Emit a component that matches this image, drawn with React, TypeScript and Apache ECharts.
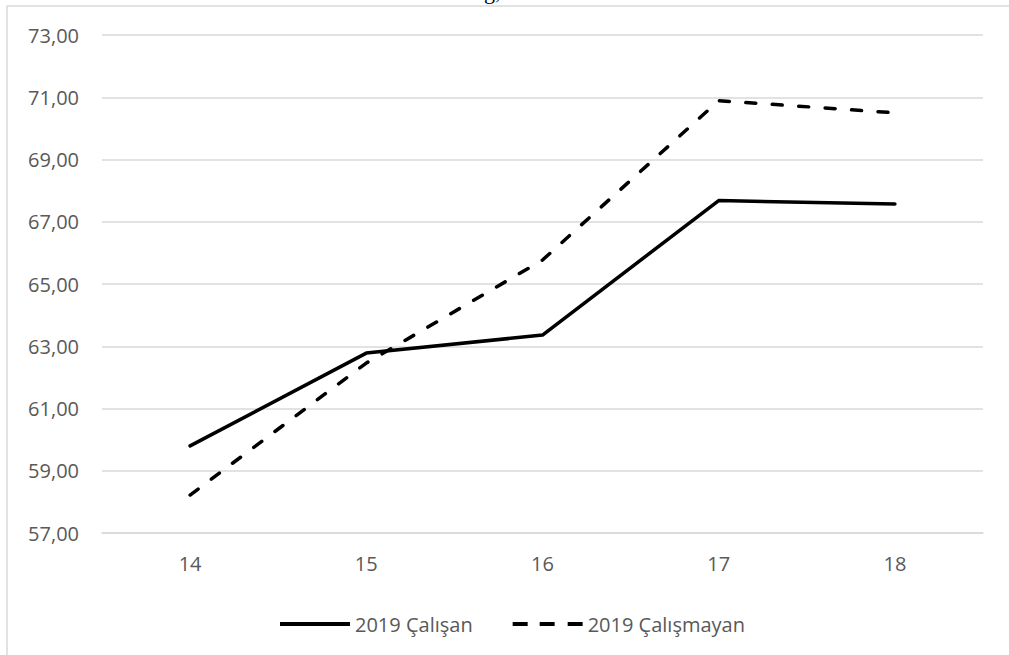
import React, { useEffect, useRef } from "react";
import * as echarts from "echarts";

const categories = ["14", "15", "16", "17", "18"];
const calisan = [59.8, 62.78, 63.36, 67.68, 67.57];
const calismayan = [58.22, 62.46, 65.77, 70.89, 70.5];
const seriesNames = ["2019 Çalışan", "2019 Çalışmayan"];
const yMin = 57;
const yMax = 73;
const yStep = 2;

export default function App() {
  const ref = useRef<HTMLDivElement>(null);
  useEffect(() => {
    if (!ref.current) return;
    const chart = echarts.init(ref.current, null, { renderer: "svg" });
    const font = "'Open Sans', 'Noto Sans', sans-serif";
    chart.setOption({
      animation: false,
      backgroundColor: "#ffffff",
      grid: { left: 102, right: 26, top: 35, bottom: 122, containLabel: false },
      xAxis: {
        type: "category",
        data: categories,
        boundaryGap: true,
        axisLine: { show: true, lineStyle: { color: "#d9d9d9", width: 1.5 } },
        axisTick: { show: false },
        axisLabel: { color: "#595959", fontSize: 20, fontFamily: font, margin: 20 },
        splitLine: { show: false },
      },
      yAxis: {
        type: "value",
        min: yMin,
        max: yMax,
        interval: yStep,
        axisLine: { show: false },
        axisTick: { show: false },
        axisLabel: {
          color: "#595959",
          fontSize: 20,
          fontFamily: font,
          margin: 23,
          formatter: (v: number) => v.toFixed(2).replace(".", ","),
        },
        splitLine: { show: true, lineStyle: { color: "#d9d9d9", width: 1.5 } },
      },
      legend: {
        left: 275,
        top: 606,
        itemWidth: 70,
        itemHeight: 4,
        itemGap: 40,
        textStyle: { color: "#595959", fontSize: 20, fontFamily: font, lineHeight: 26 },
        data: [
          { name: seriesNames[0], icon: "path://M0,0h70v4h-70z" },
          {
            name: seriesNames[1],
            icon: "path://M0,0h15v4h-15z M27,0h15v4h-15z M55,0h15v4h-15z",
          },
        ],
        itemStyle: { color: "#000000" },
      },
      series: [
        {
          name: seriesNames[0],
          type: "line",
          data: calisan,
          symbol: "none",
          lineStyle: { color: "#000000", width: 3.5, cap: "round", join: "round" },
          itemStyle: { color: "#000000" },
        },
        {
          name: seriesNames[1],
          type: "line",
          data: calismayan,
          symbol: "none",
          lineStyle: { color: "#000000", width: 3.5, type: [10, 16.5], cap: "round", join: "round" },
          itemStyle: { color: "#000000" },
        },
      ],
      graphic: [
        {
          type: "rect",
          shape: { x: 7, y: 6, width: 1200, height: 900 },
          style: { fill: "none", stroke: "#d9d9d9", lineWidth: 1.5 },
          silent: true,
        },
        {
          type: "text",
          x: 484,
          y: -20,
          style: { text: "ğ,", font: "22px 'Liberation Serif', serif", fill: "#000000" },
          silent: true,
        },
      ],
    });
    return () => chart.dispose();
  }, []);
  return (
    <div
      ref={ref}
      style={{ position: "fixed", left: 0, top: 0, width: 1009, height: 655 }}
    />
  );
}
